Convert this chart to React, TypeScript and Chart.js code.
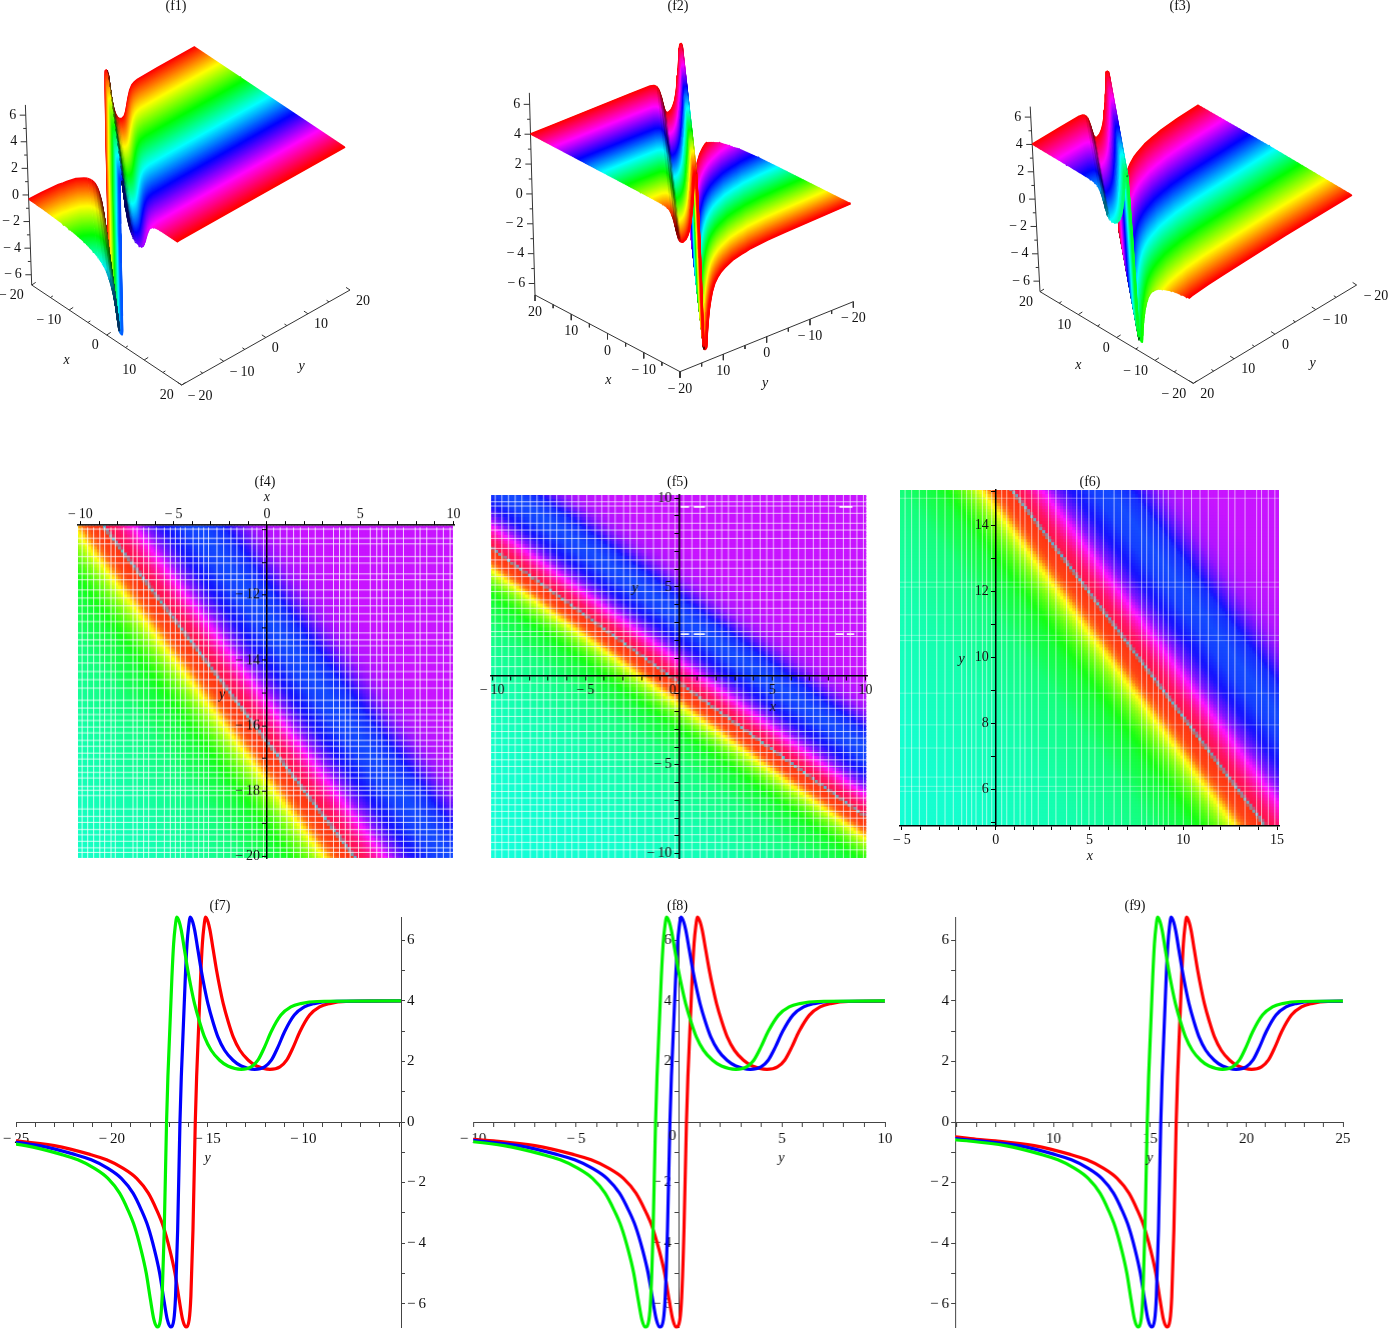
import React, { useEffect, useRef } from 'react';
import Chart from 'chart.js/auto';

/* ---------- values (f7, f8, f9) ---------- */
const curveValues = [-0.49, -0.57, -0.62, -0.78, -1.07, -1.25, -1.53, -1.86, -2.35, -2.9, -3.45, -4.22, -4.99, -5.87, -6.53, -6.77, -6.53, -5.76, -3.56, 0, 1.49, 4.79, 5.89, 6.44, 6.77, 6.6, 6.33, 5.67, 5.01, 4.41, 3.91, 3.31, 2.81, 2.37, 2.04, 1.85, 1.74, 1.82, 2.04, 2.48, 2.98, 3.53, 3.8, 3.91, 3.98, 4];

const f7Red = [-27.1, -26, -25, -23, -21.14, -20.27, -19.4, -18.7, -18.09, -17.66, -17.31, -16.97, -16.7, -16.48, -16.3, -16.13, -15.96, -15.87, -15.76, -15.64, -15.57, -15.36, -15.27, -15.19, -15.1, -14.97, -14.87, -14.7, -14.53, -14.35, -14.18, -13.92, -13.66, -13.31, -12.87, -12.44, -11.74, -11.22, -10.87, -10.52, -10.18, -9.67, -9.15, -8.63, -7.77, -3.1];
const f7Blue = [-27.9, -26.8, -25.8, -23.8, -21.94, -21.07, -20.2, -19.5, -18.89, -18.46, -18.11, -17.77, -17.5, -17.28, -17.1, -16.93, -16.76, -16.67, -16.56, -16.44, -16.37, -16.16, -16.07, -15.99, -15.9, -15.77, -15.67, -15.5, -15.33, -15.15, -14.98, -14.72, -14.46, -14.11, -13.67, -13.24, -12.54, -12.02, -11.67, -11.32, -10.98, -10.47, -9.95, -9.43, -8.57, -3.9];
const f7Green = [-28.6, -27.5, -26.5, -24.5, -22.64, -21.77, -20.9, -20.2, -19.59, -19.16, -18.81, -18.47, -18.2, -17.98, -17.8, -17.63, -17.46, -17.37, -17.26, -17.14, -17.07, -16.86, -16.77, -16.69, -16.6, -16.47, -16.37, -16.2, -16.03, -15.85, -15.68, -15.42, -15.16, -14.81, -14.37, -13.94, -13.24, -12.72, -12.37, -12.02, -11.68, -11.17, -10.65, -10.13, -9.27, -4.6];

const f8Red = [-11.1, -10, -9, -7, -5.14, -4.27, -3.4, -2.7, -2.09, -1.66, -1.31, -0.97, -0.7, -0.48, -0.3, -0.13, 0.04, 0.13, 0.24, 0.36, 0.43, 0.64, 0.73, 0.81, 0.9, 1.03, 1.13, 1.3, 1.47, 1.65, 1.82, 2.08, 2.34, 2.69, 3.13, 3.56, 4.26, 4.78, 5.13, 5.48, 5.82, 6.33, 6.85, 7.37, 8.23, 12.9];
const f8Blue = [-11.9, -10.8, -9.8, -7.8, -5.94, -5.07, -4.2, -3.5, -2.89, -2.46, -2.11, -1.77, -1.5, -1.28, -1.1, -0.93, -0.76, -0.67, -0.56, -0.44, -0.37, -0.16, -0.07, 0.01, 0.1, 0.23, 0.33, 0.5, 0.67, 0.85, 1.02, 1.28, 1.54, 1.89, 2.33, 2.76, 3.46, 3.98, 4.33, 4.68, 5.02, 5.53, 6.05, 6.57, 7.43, 12.1];
const f8Green = [-12.6, -11.5, -10.5, -8.5, -6.64, -5.77, -4.9, -4.2, -3.59, -3.16, -2.81, -2.47, -2.2, -1.98, -1.8, -1.63, -1.46, -1.37, -1.26, -1.14, -1.07, -0.86, -0.77, -0.69, -0.6, -0.47, -0.37, -0.2, -0.03, 0.15, 0.32, 0.58, 0.84, 1.19, 1.63, 2.06, 2.76, 3.28, 3.63, 3.98, 4.32, 4.83, 5.35, 5.87, 6.73, 11.4];

const f9Red = [4.9, 6, 7, 9, 10.86, 11.73, 12.6, 13.3, 13.91, 14.34, 14.69, 15.03, 15.3, 15.52, 15.7, 15.87, 16.04, 16.13, 16.24, 16.36, 16.43, 16.64, 16.73, 16.81, 16.9, 17.03, 17.13, 17.3, 17.47, 17.65, 17.82, 18.08, 18.34, 18.69, 19.13, 19.56, 20.26, 20.78, 21.13, 21.48, 21.82, 22.33, 22.85, 23.37, 24.23, 28.9];
const f9Blue = [4.1, 5.2, 6.2, 8.2, 10.06, 10.93, 11.8, 12.5, 13.11, 13.54, 13.89, 14.23, 14.5, 14.72, 14.9, 15.07, 15.24, 15.33, 15.44, 15.56, 15.63, 15.84, 15.93, 16.01, 16.1, 16.23, 16.33, 16.5, 16.67, 16.85, 17.02, 17.28, 17.54, 17.89, 18.33, 18.76, 19.46, 19.98, 20.33, 20.68, 21.02, 21.53, 22.05, 22.57, 23.43, 28.1];
const f9Green = [3.4, 4.5, 5.5, 7.5, 9.36, 10.23, 11.1, 11.8, 12.41, 12.84, 13.19, 13.53, 13.8, 14.02, 14.2, 14.37, 14.54, 14.63, 14.74, 14.86, 14.93, 15.14, 15.23, 15.31, 15.4, 15.53, 15.63, 15.8, 15.97, 16.15, 16.32, 16.58, 16.84, 17.19, 17.63, 18.06, 18.76, 19.28, 19.63, 19.98, 20.32, 20.83, 21.35, 21.87, 22.73, 27.4];

/* ---------- wave profile across the ridge ---------- */
const ridgeOffsets = [-12, -10.9, -9.9, -7.9, -6.04, -5.17, -4.3, -3.6, -2.99, -2.56, -2.21, -1.87, -1.6, -1.38, -1.2, -1.03, -0.86, -0.77, -0.66, -0.54, -0.47, -0.26, -0.17, -0.09, 0, 0.13, 0.23, 0.4, 0.57, 0.75, 0.92, 1.18, 1.44, 1.79, 2.23, 2.66, 3.36, 3.88, 4.23, 4.58, 4.92, 5.43, 5.95, 6.47, 7.33, 12];
const profileT = [-60, -35, -20, -16, ...ridgeOffsets, 30, 60];
const profileZ = [-0.15, -0.2, -0.33, -0.38, ...curveValues, 4, 4];
const surfaceCap = 5.95;
const ridgeSlope = -0.753;
const f1f4Ridge = -15.98;
const f2f5Ridge = 0.12;
const f3f6Ridge = 16.22;

/* ---------- colour read across the band of the density panels ---------- */
const hueT = [-60, -20, -12, -8, -6, -5, -4.3, -3.6, -2.99, -2.56, -2.21, -1.87, -1.6, -1.38, -1.1, -0.62, -0.51, -0.49, 0, 0.4, 0.75, 1.18, 1.79, 2.66, 3.36, 4.23, 4.58, 4.92, 5.43, 5.95, 7.33, 60];
const hueV = [176, 172, 167, 159, 151, 146, 137, 130, 117, 103, 88, 68, 47, 24, 12, 8, 8, 350, 338, 318, 297, 268, 243, 229, 226, 234, 246, 259, 274, 281, 286, 286];

/* ---------- white mesh lines of the density panels ---------- */
const f4MeshX = [-9.91, -9.61, -9.29, -8.96, -8.7, -8.36, -8.13, -7.68, -7.18, -6.96, -6.61, -6.34, -5.93, -5.5, -5.18, -4.91, -4.64, -4.38, -3.96, -3.66, -3.39, -3.13, -2.68, -2.32, -1.93, -1.61, -1.25, -0.8, -0.54, -0.18, 0.36, 0.71, 1.07, 1.43, 1.79, 2.23, 2.59, 3.04, 3.57, 3.89, 4.2, 4.46, 4.91, 5.54, 5.89, 6.16, 6.52, 6.88, 7.32, 7.95, 8.21, 8.57, 9.11, 9.46, 9.82];
const f4MeshY = [-9.98, -10.26, -10.43, -10.82, -11.02, -11.35, -11.53, -11.84, -12.09, -12.33, -12.57, -12.81, -13.16, -13.37, -13.55, -13.83, -14.08, -14.34, -14.59, -14.85, -15.22, -15.46, -15.66, -15.84, -16.04, -16.22, -16.45, -16.63, -16.84, -17.02, -17.24, -17.43, -17.6, -17.86, -17.98, -18.14, -18.55, -18.78, -18.96, -19.18, -19.34, -19.54, -19.74, -19.88];
const f5MeshX = [-9.84, -9.48, -9.13, -8.77, -8.41, -7.96, -7.6, -7.25, -6.89, -6.54, -6.09, -5.73, -5.38, -4.93, -4.48, -4.13, -3.77, -3.41, -2.96, -2.61, -2.25, -1.8, -1.36, -0.91, -0.55, -0.2, 0.25, 0.7, 1.14, 1.5, 1.95, 2.3, 2.66, 3.11, 3.46, 3.91, 4.36, 4.71, 5.07, 5.52, 5.96, 6.41, 6.77, 7.21, 7.57, 8.02, 8.38, 8.82, 9.18, 9.54, 9.89];
const f5MeshY = [9.79, 9.55, 9.14, 8.58, 8.2, 7.73, 7.17, 6.52, 6.05, 5.58, 5.11, 4.74, 4.27, 3.8, 3.43, 2.96, 2.49, 2.21, 1.65, 1.09, 0.52, -0.41, -0.94, -1.35, -1.82, -2.28, -2.7, -3.13, -3.5, -3.88, -4.31, -4.72, -5.09, -5.51, -6.07, -6.5, -6.87, -7.25, -7.62, -8, -8.46, -8.93, -9.36, -9.78];
const f6MeshX = [-4.83, -4.48, -4.07, -3.68, -3.14, -2.7, -2.26, -1.81, -1.55, -1.28, -1.05, -0.71, -0.48, -0.21, 0.32, 0.59, 0.98, 1.3, 1.56, 1.92, 2.27, 2.81, 3.21, 3.78, 4.32, 4.58, 4.97, 5.29, 5.74, 6.31, 6.71, 7.16, 7.78, 8.05, 8.4, 8.67, 8.93, 9.2, 9.56, 10, 10.44, 10.89, 11.33, 11.86, 12.4, 12.75, 13.29, 13.91, 14.17, 14.53, 14.88];
const f6MeshY = [14.81, 12.27, 12.12, 11.28, 10.66, 10.5, 8.91, 7.95, 7.25, 6.37, 6.09, 5.94];
const f5Dashes = [[9.5, 0.1, 0.55], [9.5, 0.8, 1.4], [9.5, 8.6, 9.3], [2.35, 0.1, 0.55], [2.35, 0.8, 1.4], [2.35, 8.4, 8.85], [2.35, 9.0, 9.4]];

const serif = '"Liberation Serif", "Times New Roman", serif';
const zFloor = -6.77;

type Mark = { text: string; x: number; y: number; align?: CanvasTextAlign; italic?: boolean; size?: number };

const textPlugin = (marks: Mark[]) => ({
  id: 'textMarks',
  afterDraw(chart: any) {
    const { ctx, scales } = chart;
    ctx.save();
    ctx.fillStyle = '#111';
    ctx.textBaseline = 'middle';
    marks.forEach((m) => {
      ctx.font = `${m.italic ? 'italic ' : ''}${m.size ?? 14}px ${serif}`;
      ctx.textAlign = m.align ?? 'center';
      ctx.fillText(m.text, scales.x.getPixelForValue(m.x), scales.y.getPixelForValue(m.y));
    });
    ctx.restore();
  },
});

const fmt = (v: number) => (v < 0 ? `\u2212\u2009${-v}` : `${v}`);

const lerpTable = (ts: number[], vs: number[], t: number) => {
  if (t <= ts[0]) return vs[0];
  for (let i = 1; i < ts.length; i++) {
    if (t <= ts[i]) return vs[i - 1] + ((vs[i] - vs[i - 1]) * (t - ts[i - 1])) / (ts[i] - ts[i - 1]);
  }
  return vs[vs.length - 1];
};

const hueRgb = (h0: number) => {
  const h = ((h0 % 360) + 360) % 360;
  const f = (n: number) => {
    const k = (n + h / 60) % 6;
    return 255 * (1 - Math.max(0, Math.min(k, 4 - k, 1)));
  };
  return [f(5), f(3), f(1)];
};

const M = 40;
const fitTo = (size: number) => (s: any) => {
  if (s.isHorizontal()) s.height = size;
  else s.width = size;
  s.paddingLeft = s.paddingRight = s.paddingTop = s.paddingBottom = 0;
};

type AxisOpt = { min: number; max: number; major: number; position: any; size: number; pad: number; hide?: number[]; over?: boolean; color: string; width: number; vertical?: boolean };
const axis = (o: AxisOpt) => {
  // a y axis that crosses inside the plot draws its labels flush with the axis: an en space keeps them clear of the ticks
  const tail = o.vertical && typeof o.position !== 'string' ? '\u2002' : '';
  return {
    type: 'linear',
    min: o.min,
    max: o.max,
    position: o.position,
    afterFit: fitTo(typeof o.position === 'string' ? M : 0),
    border: { display: true, color: o.color, width: o.width, z: o.over ? 2 : 0 },
    grid: { display: true, drawOnChartArea: false, drawTicks: true, tickLength: 4, tickColor: o.color, tickWidth: 1, z: o.over ? 2 : -1 },
    ticks: {
      stepSize: 1,
      includeBounds: false,
      autoSkip: false,
      maxRotation: 0,
      minRotation: 0,
      padding: o.pad,
      color: '#111',
      z: o.over ? 2 : 0,
      font: { family: serif, size: o.size },
      callback: (v: number) => (v % o.major === 0 && !(o.hide ?? []).includes(v) ? fmt(v) + tail : ''),
    },
  };
};

const basePlugins = { legend: { display: false }, tooltip: { enabled: false }, title: { display: false } };

const sidePadding = (xPos: any, yPos: any) => ({
  left: yPos === 'left' ? 0 : M,
  right: yPos === 'right' ? 0 : M,
  top: xPos === 'top' ? 0 : M,
  bottom: xPos === 'bottom' ? 0 : M,
});

type Rect = { l: number; t: number; r: number; b: number };
const canvasBox = (a: Rect) => ({ left: a.l - M, top: a.t - M, width: a.r - a.l + 2 * M, height: a.b - a.t + 2 * M });

/* ---------- line panels ---------- */
const curveConfig = (xMin: number, xMax: number, yPos: any, red: number[], blue: number[], green: number[], hide: { x: number[]; y: number[] }, marks: Mark[], ypad: number) => {
  const series = (label: string, xs: number[], color: string, order: number) => ({
    label,
    data: xs.map((x, i) => ({ x, y: curveValues[i] })),
    borderColor: color,
    borderWidth: 3.2,
    pointRadius: 0,
    showLine: true,
    cubicInterpolationMode: 'monotone',
    order,
    clip: { left: 0, right: 0, top: 6, bottom: 6 },
  });
  return {
    type: 'scatter',
    data: { datasets: [series('red', red, '#ff0000', 2), series('blue', blue, '#0000ff', 1), series('green', green, '#00f400', 0)] },
    options: {
      animation: false,
      responsive: false,
      events: [],
      layout: { padding: sidePadding({ y: 0 }, yPos) },
      plugins: basePlugins,
      scales: {
        x: axis({ min: xMin, max: xMax, major: 5, position: { y: 0 }, size: 15, pad: 4, hide: hide.x, color: '#444', width: 1 }),
        y: axis({ min: -6.77, max: 6.77, major: 2, position: yPos, size: 15, pad: ypad, hide: hide.y, color: '#444', width: 1, vertical: true }),
      },
    },
    plugins: [textPlugin(marks)],
  };
};

/* ---------- density panels ---------- */
const densityConfig = (xb: number[], yb: number[], cell: number[], ridge: number, xPos: any, yPos: any, meshX: number[], meshY: number[], hAlpha: number, vAlpha: number, dashes: number[][], hide: { x: number[]; y: number[] }, marks: Mark[], major: number, xPad: number) => {
  const pts: { x: number; y: number }[] = [];
  const cols: string[] = [];
  for (let y = cell[2]; y >= cell[3]; y -= cell[1]) {
    for (let x = cell[4]; x <= cell[5]; x += cell[0]) {
      const t = y - (ridge + ridgeSlope * x);
      let [r, g, b] = hueRgb(lerpTable(hueT, hueV, t));
      const k = Math.max(0, 1 - Math.abs(t + 0.5) / 0.12);
      r = r * (1 - k) + 80 * k;
      g = g * (1 - k) + 175 * k;
      b = b * (1 - k) + 200 * k;
      const w = 0.08;
      cols.push(`rgb(${Math.round(r * (1 - w) + 255 * w)},${Math.round(g * (1 - w) + 255 * w)},${Math.round(b * (1 - w) + 255 * w)})`);
      pts.push({ x, y });
    }
  }
  const gap = { x: NaN, y: NaN };
  const vLines = meshX.flatMap((x) => [{ x, y: cell[3] - 1 }, { x, y: cell[2] }, gap]);
  const hLines = meshY.flatMap((y) => [{ x: cell[4] - 1, y }, { x: cell[5] + 1, y }, gap]);
  const dLines = dashes.flatMap(([y, x1, x2]) => [{ x: x1, y }, { x: x2, y }, gap]);
  const lineSet = (label: string, data: any[], color: string, width: number, order: number) => ({ label, data, borderColor: color, borderWidth: width, pointRadius: 0, showLine: true, spanGaps: false, order });
  return {
    type: 'scatter',
    data: {
      datasets: [
        lineSet('dashes', dLines, 'rgba(255,255,255,0.95)', 1.6, 0),
        lineSet('meshY', hLines, `rgba(255,255,255,${hAlpha})`, 1, 1),
        lineSet('meshX', vLines, `rgba(255,255,255,${vAlpha})`, 1, 2),
        { label: 'density', data: pts, parsing: false, normalized: true, showLine: false, pointStyle: 'rect', pointRadius: 2.7, pointBorderWidth: 0, pointBackgroundColor: cols, order: 3 },
      ],
    },
    options: {
      animation: false,
      responsive: false,
      events: [],
      layout: { padding: sidePadding(xPos, yPos) },
      plugins: basePlugins,
      scales: {
        x: axis({ min: xb[0], max: xb[1], major: 5, position: xPos, size: 14, pad: xPad, hide: hide.x, over: true, color: '#000', width: 1.5 }),
        y: axis({ min: yb[0], max: yb[1], major, position: yPos, size: 14, pad: 3, hide: hide.y, over: true, color: '#000', width: 1.5, vertical: true }),
      },
    },
    plugins: [textPlugin(marks)],
  };
};

/* ---------- 3-D panels ---------- */
type View = {
  box: { left: number; top: number; width: number; height: number };
  o: number[];
  ox: number;
  oy: number;
  ex: number[];
  ey: number[];
  ez: number[];
  ridge: number;
  shadeSign: number;
  xTick: number[];
  yTick: number[];
  xLabel: { dx: number; dy: number; align: CanvasTextAlign; values: number[] };
  yLabel: { dx: number; dy: number; align: CanvasTextAlign; values: number[] };
  titles: Mark[];
};

const project = (v: View, x: number, y: number, z: number) => ({
  x: v.o[0] + (x - v.ox) * v.ex[0] + (y - v.oy) * v.ey[0] + (z - zFloor) * v.ez[0],
  y: v.o[1] + (x - v.ox) * v.ex[1] + (y - v.oy) * v.ey[1] + (z - zFloor) * v.ez[1],
});

const surfaceConfig = (v: View) => {
  const painted: any[] = [];
  const gap = { x: NaN, y: NaN };
  const far = project(v, v.ox, v.oy, 6.77);
  const c0 = project(v, v.ox, v.oy, zFloor);
  const c1 = project(v, -v.ox, v.oy, zFloor);
  const c2 = project(v, -v.ox, -v.oy, zFloor);
  const axisPts: any[] = [far, c0, c1, c2, gap];
  const marks: Mark[] = [...v.titles];
  for (let k = -20; k <= 20; k += 5) {
    const s = k % 10 === 0 ? 1 : 0.6;
    const a = project(v, k, v.oy, zFloor);
    axisPts.push(a, { x: a.x + v.xTick[0] * s, y: a.y + v.xTick[1] * s }, gap);
    const b = project(v, -v.ox, k, zFloor);
    axisPts.push(b, { x: b.x + v.yTick[0] * s, y: b.y + v.yTick[1] * s }, gap);
  }
  for (let z = -6; z <= 6; z++) {
    const p = project(v, v.ox, v.oy, z);
    const isMajor = z % 2 === 0;
    axisPts.push(p, { x: p.x - (isMajor ? 6 : 3), y: p.y }, gap);
    if (isMajor) marks.push({ text: fmt(z), x: p.x - 9.5, y: p.y, align: 'right' });
  }
  v.xLabel.values.forEach((k) => {
    const p = project(v, k, v.oy, zFloor);
    marks.push({ text: fmt(k), x: p.x + v.xLabel.dx, y: p.y + v.xLabel.dy, align: v.xLabel.align });
  });
  v.yLabel.values.forEach((k) => {
    const p = project(v, -v.ox, k, zFloor);
    marks.push({ text: fmt(k), x: p.x + v.yLabel.dx, y: p.y + v.yLabel.dy, align: v.yLabel.align });
  });
  painted.push({ label: 'axes', data: axisPts, borderColor: '#333', borderWidth: 1, pointRadius: 0, showLine: true, spanGaps: false });

  const slices = 200;
  for (let i = 0; i <= slices; i++) {
    const x = v.ox + ((-v.ox - v.ox) * i) / slices;
    const centre = v.ridge + ridgeSlope * x;
    const inner = profileT.map((t) => centre + t).filter((y) => y > -20 && y < 20);
    const ys = [-20, ...inner, 20];
    if (v.oy > 0) ys.sort((p, q) => p - q);
    else ys.sort((p, q) => q - p);
    const [r, g, b] = hueRgb((x + 20) * 9);
    const zs = ys.map((y) => Math.max(-surfaceCap, Math.min(surfaceCap, lerpTable(profileT, profileZ, y - centre))));
    const cols: string[] = [];
    for (let j = 0; j < ys.length - 1; j++) {
      const slope = (zs[j + 1] - zs[j]) / (ys[j + 1] - ys[j]);
      const facing = v.shadeSign * slope;
      let f = 1;
      if (facing > 0.3 && facing < 6) f = 1 - 0.62 * Math.min(1, (facing - 0.3) / 1.4);
      cols.push(`rgb(${Math.round(r * f)},${Math.round(g * f)},${Math.round(b * f)})`);
    }
    painted.push({
      label: `x=${x.toFixed(1)}`,
      data: ys.map((y, j) => project(v, x, y, zs[j])),
      borderColor: cols[0],
      borderWidth: 2,
      borderJoinStyle: 'round',
      pointRadius: 0,
      showLine: true,
      segment: { borderColor: (ctx: any) => cols[ctx.p0DataIndex] },
    });
  }
  painted.forEach((d, i) => {
    d.order = painted.length - i;
  });
  return {
    type: 'scatter',
    data: { datasets: painted },
    options: {
      animation: false,
      responsive: false,
      events: [],
      layout: { padding: 0 },
      plugins: basePlugins,
      scales: {
        x: { type: 'linear', display: false, min: v.box.left, max: v.box.left + v.box.width },
        y: { type: 'linear', display: false, min: v.box.top, max: v.box.top + v.box.height, reverse: true },
      },
    },
    plugins: [textPlugin(marks)],
  };
};

const viewF1: View = {
  box: { left: 0, top: 0, width: 440, height: 420 },
  o: [31.7, 285], ox: -20, oy: -20,
  ex: [3.75, 2.5], ey: [4.208, -2.375], ez: [-0.467, -13.3],
  ridge: f1f4Ridge, shadeSign: -1,
  xTick: [4, -2.6], yTick: [-4, -2.6],
  xLabel: { dx: -8, dy: 10, align: 'right', values: [-20, -10, 0, 10, 20] },
  yLabel: { dx: 6, dy: 11, align: 'left', values: [-20, -10, 0, 10, 20] },
  titles: [{ text: 'x', x: 66.7, y: 360, italic: true }, { text: 'y', x: 301.7, y: 366.7, italic: true }],
};
const viewF2: View = {
  box: { left: 480, top: 0, width: 410, height: 420 },
  o: [535, 295], ox: 20, oy: 20,
  ex: [-3.625, -1.917], ey: [-4.333, 1.75], ez: [-0.417, -14.93],
  ridge: f2f5Ridge, shadeSign: 1,
  xTick: [0, 6], yTick: [0, 6],
  xLabel: { dx: 0, dy: 17.5, align: 'center', values: [20, 10, 0, -10, -20] },
  yLabel: { dx: 0, dy: 17, align: 'center', values: [10, 0, -10, -20] },
  titles: [{ text: 'x', x: 608.3, y: 380, italic: true }, { text: 'y', x: 765, y: 383.3, italic: true }],
};
const viewF3: View = {
  box: { left: 980, top: 0, width: 410, height: 420 },
  o: [1040, 291.67], ox: 20, oy: 20,
  ex: [-3.833, -2.292], ey: [-4.083, 2.458], ez: [-0.723, -13.67],
  ridge: f3f6Ridge, shadeSign: 1,
  xTick: [4, -2.6], yTick: [-4, -2.6],
  xLabel: { dx: -7, dy: 11, align: 'right', values: [20, 10, 0, -10, -20] },
  yLabel: { dx: 7, dy: 11, align: 'left', values: [20, 10, 0, -10, -20] },
  titles: [{ text: 'x', x: 1078.3, y: 365, italic: true }, { text: 'y', x: 1312.7, y: 363.3, italic: true }],
};

/* ---------- placing ---------- */
const areaF4: Rect = { l: 77.5, t: 525.4, r: 454, b: 858.3 };
const areaF5: Rect = { l: 491, t: 495, r: 866.7, b: 858.3 };
const areaF6: Rect = { l: 900, t: 490, r: 1279.3, b: 826 };
const areaF7: Rect = { l: 16, t: 916.7, r: 401.1, b: 1327.3 };
const areaF8: Rect = { l: 473.3, t: 916.7, r: 885.3, b: 1327.3 };
const areaF9: Rect = { l: 954.8, t: 916.7, r: 1342.7, b: 1327.3 };

const titles = [
  { text: '(f1)', x: 176, y: 6 }, { text: '(f2)', x: 678, y: 6 }, { text: '(f3)', x: 1180, y: 6 },
  { text: '(f4)', x: 265, y: 481.5 }, { text: '(f5)', x: 677.5, y: 481.5 }, { text: '(f6)', x: 1090, y: 481.5 },
  { text: '(f7)', x: 220, y: 905.5 }, { text: '(f8)', x: 677.5, y: 905.5 }, { text: '(f9)', x: 1135, y: 905.5 },
];

function ChartBox({ box, make }: { box: { left: number; top: number; width: number; height: number }; make: () => any }) {
  const ref = useRef<HTMLCanvasElement | null>(null);
  useEffect(() => {
    const chart = new Chart(ref.current as HTMLCanvasElement, make());
    return () => chart.destroy();
  }, []);
  return <canvas ref={ref} width={box.width} height={box.height} style={{ position: 'absolute', left: box.left, top: box.top, width: box.width, height: box.height }} />;
}

export default function App() {
  return (
    <div style={{ position: 'absolute', left: 0, top: 0, width: 1390, height: 1330, overflow: 'hidden', background: '#fff' }}>
      <ChartBox box={viewF1.box} make={() => surfaceConfig(viewF1)} />
      <ChartBox box={viewF2.box} make={() => surfaceConfig(viewF2)} />
      <ChartBox box={viewF3.box} make={() => surfaceConfig(viewF3)} />
      <ChartBox box={canvasBox(areaF4)} make={() => densityConfig([-10.13, 10.03], [-20.05, -9.856], [0.16, 0.092, -9.93, -20.05, -10.13, 10.03], f1f4Ridge, 'top', { x: 0 }, f4MeshX, f4MeshY, 0.8, 0.8, [], { x: [], y: [-10] }, [
        { text: 'x', x: 0, y: -9.02, italic: true }, { text: 'y', x: -2.4, y: -15.05, italic: true },
      ], 2, -2)} />
      <ChartBox box={canvasBox(areaF5)} make={() => densityConfig([-10.06, 10.08], [-10.24, 10.17], [0.16, 0.168, 10.17, -10.24, -10.06, 10.08], f2f5Ridge, { y: 0 }, { x: 0 }, f5MeshX, f5MeshY, 0.7, 0.7, f5Dashes, { x: [0], y: [0] }, [
        { text: 'x', x: 5.04, y: -1.76, italic: true }, { text: 'y', x: -2.35, y: 4.94, italic: true }, { text: '0', x: -0.32, y: -0.79 },
      ], 5, 2)} />
      <ChartBox box={canvasBox(areaF6)} make={() => densityConfig([-5.1, 15.1], [4.89, 15.06], [0.16, 0.091, 15.06, 4.89, -5.1, 15.1], f3f6Ridge, 'bottom', { x: 0 }, f6MeshX, f6MeshY, 0.35, 0.6, [], { x: [], y: [] }, [
        { text: 'x', x: 5.02, y: 3.96, italic: true }, { text: 'y', x: -1.81, y: 9.95, italic: true },
      ], 2, 2)} />
      <ChartBox box={canvasBox(areaF7)} make={() => curveConfig(-25, -4.9, 'right', f7Red, f7Blue, f7Green, { x: [-5], y: [] }, [
        { text: 'y', x: -15, y: -1.2, italic: true },
      ], 2)} />
      <ChartBox box={canvasBox(areaF8)} make={() => curveConfig(-10, 10, { x: 0 }, f8Red, f8Blue, f8Green, { x: [0], y: [0] }, [
        { text: 'y', x: 4.97, y: -1.2, italic: true }, { text: '0', x: -0.32, y: -0.48, size: 15 },
      ], 4)} />
      <ChartBox box={canvasBox(areaF9)} make={() => curveConfig(4.9, 25, 'left', f9Red, f9Blue, f9Green, { x: [5], y: [] }, [
        { text: 'y', x: 15, y: -1.2, italic: true },
      ], 2)} />
      {titles.map((t) => (
        <div key={t.text} style={{ position: 'absolute', left: t.x, top: t.y, transform: 'translate(-50%,-50%)', font: `14px ${serif}`, color: '#111', whiteSpace: 'nowrap' }}>
          {t.text}
        </div>
      ))}
    </div>
  );
}
